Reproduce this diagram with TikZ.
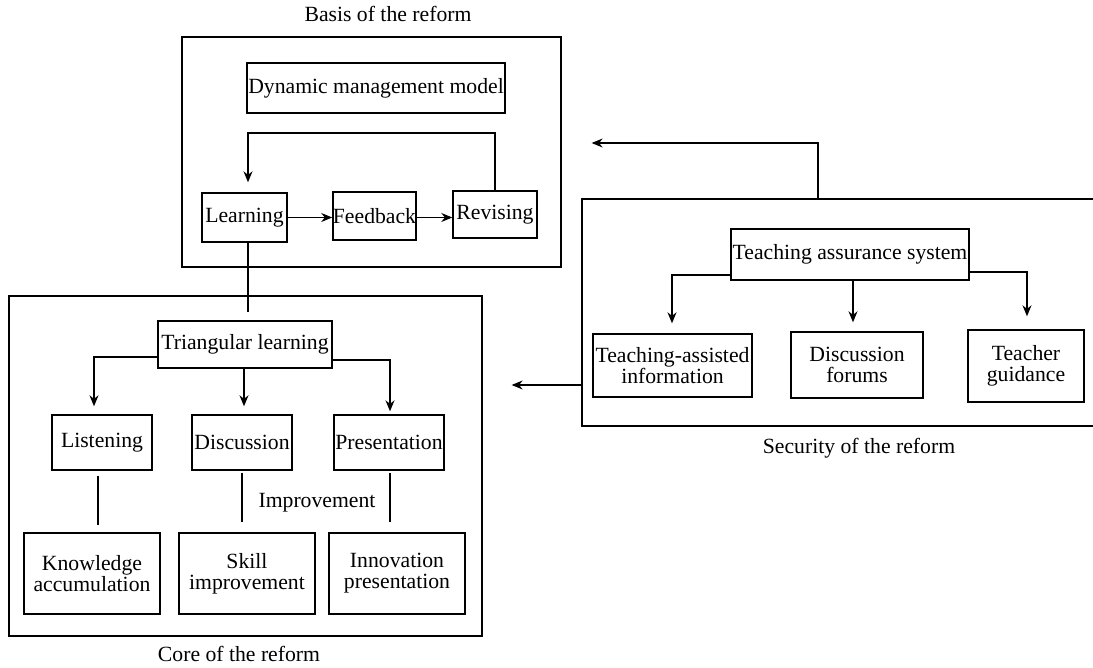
\documentclass[tikz,border=0pt]{standalone}
\usepackage{fontspec}
\setmainfont{Liberation Serif}
\usetikzlibrary{arrows.meta,calc}
\begin{document}
\begin{tikzpicture}[x=1pt,y=-1pt,
  every node/.style={font=\fontsize{21.7}{21}\selectfont},
  box/.style={draw,line width=1.4pt,inner sep=0pt,align=center},
  frame/.style={draw,line width=1.3pt,inner sep=0pt},
  lab/.style={inner sep=0pt},
  conn/.style={line width=1.2pt},
  arr/.style={conn,-{Stealth[length=11pt,width=9pt]}}]
\useasboundingbox (0,0) rectangle (1093,668);
% Basis of the reform
\node[frame,minimum width=379,minimum height=230] (basis) at (371.5,152) {};
\node[lab] (basislab) at (388,14) {Basis of the reform};
\node[box,minimum width=258,minimum height=50] (dyn) at (376,88) {Dynamic management model};
\node[box,minimum width=85,minimum height=49] (learn) at (244.5,217.5) {Learning};
\node[box,minimum width=83,minimum height=48] (feed) at (374.5,216) {Feedback};
\node[box,minimum width=84,minimum height=47] (rev) at (495,214.5) {Revising};
\coordinate (loopy) at (0,133);
\draw[arr] (learn.east) -- (learn.east -| feed.west);
\draw[arr] (feed.east |- learn.east) -- (learn.east -| rev.west);
\draw[arr,shorten >=10pt] (rev.north) -- (rev.north |- loopy) -| ([xshift=3.5pt]learn.north);
% Core of the reform
\node[frame,minimum width=473,minimum height=340] (core) at (245.5,466) {};
\node[lab] (corelab) at (239,654) {Core of the reform};
\node[box,minimum width=174,minimum height=47] (tri) at (245,344.5) {Triangular learning};
\draw[conn,shorten >=8pt] ([xshift=3.5pt]learn.south) -- ([xshift=3.5pt]learn.south |- tri.north);
\node[box,minimum width=100,minimum height=55] (listen) at (102,442.5) {Listening};
\node[box,minimum width=100,minimum height=55] (disc) at (242,442.5) {Discussion};
\node[box,minimum width=110,minimum height=55] (pres) at (389,442.5) {Presentation};
\draw[arr,shorten >=8pt] ([yshift=-12.5pt]tri.west) -| ([xshift=-8pt]listen.north);
\draw[arr,shorten >=8pt] ([xshift=-1pt]tri.south) -- ([xshift=-1pt]tri.south |- disc.north);
\draw[arr,shorten >=3pt] ([yshift=-15.5pt]tri.east) -| ([xshift=1pt]pres.north);
\node[box,minimum width=136,minimum height=81] (know) at (92,573.5) {Knowledge\\accumulation};
\node[box,minimum width=136,minimum height=81] (skill) at (247,573.5) {Skill\\improvement};
\node[box,minimum width=136,minimum height=81] (innov) at (397,573.5) {Innovation\\presentation};
\draw[conn,shorten <=5pt,shorten >=7pt] ([xshift=-4pt]listen.south) -- ([xshift=-4pt]listen.south |- know.north);
\draw[conn,shorten <=2pt,shorten >=10pt] (disc.south) -- (disc.south |- skill.north);
\draw[conn,shorten <=2pt,shorten >=10pt] ([xshift=1pt]pres.south) -- ([xshift=1pt]pres.south |- innov.north);
\node[lab] (impr) at (317,503) {Improvement};
% Security of the reform
\coordinate (secnw) at (582,199);
\coordinate (secsw) at (582,426);
\draw[line width=1.3pt] (1094,199) -- (secnw) -- (secsw) -- (1094,426);
\node[lab] (seclab) at (859,448) {Security of the reform};
\node[box,minimum width=238,minimum height=51] (tas) at (850,254.5) {Teaching assurance system};
\node[box,minimum width=159,minimum height=63] (tai) at (672.5,365.5) {Teaching-assisted\\information};
\node[box,minimum width=132,minimum height=66] (dfo) at (857,365) {Discussion\\forums};
\node[box,minimum width=116,minimum height=72] (tgu) at (1026,366) {Teacher\\guidance};
\draw[arr,shorten >=10pt] ([yshift=-20.5pt]tas.west) -| ([xshift=-0.5pt]tai.north);
\draw[arr,shorten >=9pt] ([xshift=3pt]tas.south) -- ([xshift=3pt]tas.south |- dfo.north);
\draw[arr,shorten >=13pt] ([yshift=-17.5pt]tas.east) -| ([xshift=1pt]tgu.north);
% links between parts
\coordinate (secup) at (818,199);
\coordinate (upy) at (0,143);
\draw[arr,shorten >=30pt] (secup) |- (basis.east |- upy);
\coordinate (secleft) at (582,385);
\draw[arr,shorten >=29pt] (secleft) -- (core.east |- secleft);
\end{tikzpicture}
\end{document}
